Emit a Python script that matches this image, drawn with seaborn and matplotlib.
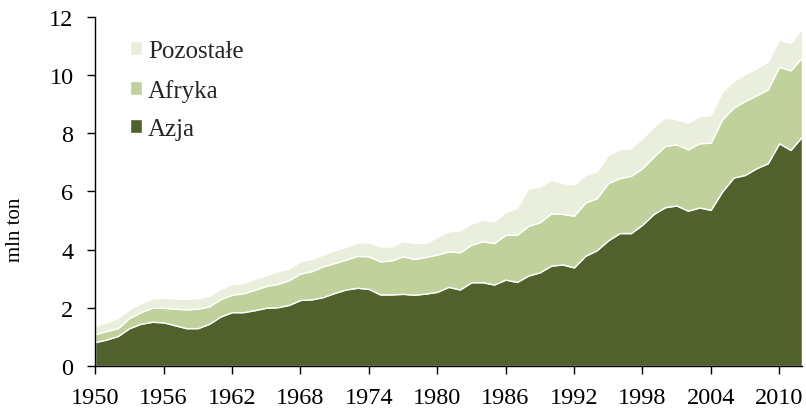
import matplotlib
matplotlib.use("Agg")
import matplotlib.pyplot as plt
import seaborn as sns
import numpy as np

lata = list(range(1950, 2013))

azja = [0.82, 0.91, 1.03, 1.30, 1.45, 1.52, 1.50, 1.40, 1.30, 1.30,
        1.45, 1.70, 1.85, 1.85, 1.92, 2.00, 2.02, 2.10, 2.27, 2.29,
        2.37, 2.51, 2.63, 2.69, 2.65, 2.46, 2.46, 2.48, 2.45, 2.49,
        2.55, 2.72, 2.63, 2.88, 2.88, 2.80, 2.97, 2.89, 3.11, 3.22,
        3.45, 3.49, 3.39, 3.79, 3.98, 4.32, 4.57, 4.57, 4.86, 5.23,
        5.46, 5.52, 5.34, 5.45, 5.37, 6.00, 6.48, 6.57, 6.80, 6.97,
        7.66, 7.43, 7.89]

afryka = [0.28, 0.29, 0.27, 0.35, 0.40, 0.48, 0.50, 0.57, 0.65, 0.67,
          0.60, 0.60, 0.60, 0.65, 0.70, 0.75, 0.80, 0.85, 0.91, 0.97,
          1.06, 1.03, 1.03, 1.10, 1.12, 1.14, 1.17, 1.29, 1.23, 1.26,
          1.28, 1.22, 1.28, 1.29, 1.41, 1.43, 1.54, 1.62, 1.71, 1.72,
          1.80, 1.74, 1.78, 1.83, 1.79, 1.97, 1.89, 1.97, 1.94, 1.97,
          2.11, 2.10, 2.11, 2.21, 2.31, 2.48, 2.41, 2.54, 2.51, 2.54,
          2.63, 2.74, 2.72]

pozostale = [0.28, 0.30, 0.35, 0.30, 0.30, 0.32, 0.35, 0.35, 0.35, 0.36,
             0.35, 0.35, 0.37, 0.35, 0.38, 0.37, 0.43, 0.40, 0.42, 0.42,
             0.40, 0.44, 0.43, 0.46, 0.48, 0.51, 0.48, 0.52, 0.55, 0.48,
             0.60, 0.69, 0.75, 0.72, 0.74, 0.74, 0.79, 0.92, 1.29, 1.23,
             1.15, 1.06, 1.06, 0.95, 0.92, 0.97, 0.99, 0.95, 1.03, 1.03,
             0.98, 0.86, 0.92, 0.93, 0.95, 0.95, 0.91, 0.92, 0.92, 0.95,
             0.93, 0.94, 0.99]

etykiety = ["Azja", "Afryka", "Pozostałe"]
kolory = ["#50612b", "#c0d19c", "#e9eedd"]

sns.set_theme(style="ticks")
plt.rcParams["font.family"] = ["Liberation Serif", "DejaVu Serif"]

fig, ax = plt.subplots(figsize=(8.06, 4.10), dpi=100)
fig.subplots_adjust(left=0.118, right=0.995, top=0.956, bottom=0.105)

ax.stackplot(lata, azja, afryka, pozostale, labels=etykiety, colors=kolory,
             edgecolor="white", linewidth=1.0)

ax.set_xlim(1950, 2012)
ax.set_ylim(0, 12)
ax.set_xticks(range(1950, 2012, 6))
ax.set_yticks(range(0, 13, 2))
ax.tick_params(axis="both", labelsize=17.5, direction="out", length=5.5,
               width=1, color="black", labelcolor="black")
ax.tick_params(axis="x", pad=10)
ax.tick_params(axis="y", pad=10)
ax.set_ylabel("mln ton", fontsize=15, color="black")
ax.yaxis.set_label_coords(-0.099, 0.393)
for s in ["top", "right"]:
    ax.spines[s].set_visible(False)
for s in ["left", "bottom"]:
    ax.spines[s].set_color("black")
    ax.spines[s].set_linewidth(1)

uchwyty, nazwy = ax.get_legend_handles_labels()
ax.legend(uchwyty[::-1], nazwy[::-1], loc="upper left", frameon=False,
          fontsize=18, handlelength=0.48, handleheight=0.48, handletextpad=0.25,
          labelspacing=0.67, borderpad=0.2, bbox_to_anchor=(0.024, 0.985))

plt.savefig("out.png", dpi=100)
